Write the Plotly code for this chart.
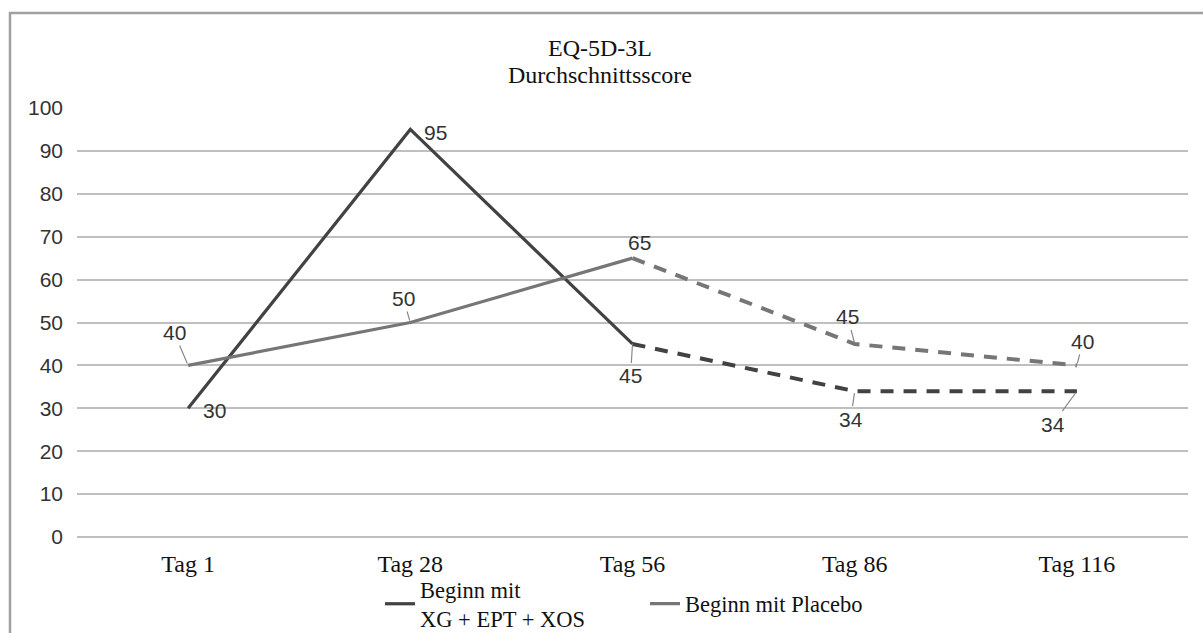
import plotly.graph_objects as go

# ---- data ----
categories = ["Tag 1", "Tag 28", "Tag 56", "Tag 86", "Tag 116"]
series_a_name = "Beginn mit<br>XG + EPT + XOS"
series_a = [30, 95, 45, 34, 34]
series_b_name = "Beginn mit Placebo"
series_b = [40, 50, 65, 45, 40]
y_ticks = [0, 10, 20, 30, 40, 50, 60, 70, 80, 90, 100]
title_lines = ["EQ-5D-3L", "Durchschnittsscore"]

# ---- styles ----
COL_A = "#424242"
COL_B = "#767676"
GRID = "#bfbfbf"
SERIF = "Liberation Serif, Times New Roman, serif"
SANS = "Liberation Sans, Arial, sans-serif"
SOLID_END = 2  # solid through Tag 56, dashed afterwards

# label offsets (pixels) and whether a leader line is drawn
lab_a = [(26, 2, False), (25, 3, False), (-2, 32, True), (-4, 28, True), (-24, 33, True)]
lab_b = [(-14, -33, True), (-7, -24, True), (7, -16, False), (-7, -27, True), (6, -24, True)]

fig = go.Figure()

def add_series(vals, name, color, width, legend):
    fig.add_trace(go.Scatter(
        x=categories[:SOLID_END + 1], y=vals[:SOLID_END + 1], mode="lines",
        name=name, line=dict(color=color, width=width), showlegend=True, legend=legend,
    ))
    fig.add_trace(go.Scatter(
        x=categories[SOLID_END:], y=vals[SOLID_END:], mode="lines",
        name=name, line=dict(color=color, width=width + 0.8, dash="13px,10px"),
        showlegend=False,
    ))

add_series(series_a, series_a_name, COL_A, 3.2, "legend")
add_series(series_b, series_b_name, COL_B, 3.2, "legend2")

annotations = []
for vals, labs in ((series_a, lab_a), (series_b, lab_b)):
    for cat, v, (dx, dy, leader) in zip(categories, vals, labs):
        if leader:
            annotations.append(dict(
                x=cat, y=v, text=str(v), showarrow=True, ax=dx, ay=dy,
                arrowhead=0, arrowwidth=1.2, arrowcolor="#888888", standoff=2,
                font=dict(family=SANS, size=21, color="#333333"),
            ))
        else:
            annotations.append(dict(
                x=cat, y=v, text=str(v), showarrow=False, xshift=dx, yshift=-dy,
                font=dict(family=SANS, size=21, color="#333333"),
            ))

# title lines (tighter line spacing than a <br> title)
for txt, yp in zip(title_lines, [(537 - 48) / 429, (537 - 75) / 429]):
    annotations.append(dict(
        text=txt, xref="paper", yref="paper", x=(600 - 77) / 1111, y=yp,
        xanchor="center", yanchor="middle", showarrow=False,
        font=dict(family=SERIF, size=24, color="#111111"),
    ))

leg_common = dict(orientation="h", xanchor="left", yref="container", y=1 - 604 / 633,
                  yanchor="middle", font=dict(family=SERIF, size=22.5, color="#111111"),
                  itemwidth=30, bgcolor="rgba(0,0,0,0)")

fig.update_layout(
    width=1203, height=633,
    margin=dict(l=77, r=15, t=108, b=96, pad=0, autoexpand=False),
    paper_bgcolor="white", plot_bgcolor="white",
    xaxis=dict(type="category", range=[-0.5, 4.5], showgrid=False, zeroline=False,
               showline=False, ticks="", ticklabelstandoff=10,
               tickfont=dict(family=SERIF, size=24, color="#111111")),
    yaxis=dict(range=[0, 100], tickvals=y_ticks, showgrid=True, gridcolor=GRID, gridwidth=1.6,
               zeroline=True, zerolinecolor=GRID, zerolinewidth=1.6, showline=False,
               ticks="", ticklabelstandoff=13,
               tickfont=dict(family=SANS, size=21, color="#333333")),
    legend=dict(x=(380 - 77) / 1111, **leg_common),
    legend2=dict(x=(645 - 77) / 1111, **leg_common),
    annotations=annotations,
    shapes=[dict(type="rect", xref="paper", yref="paper",
                 x0=(10 - 77) / 1111, x1=1.2, y0=-0.5, y1=(537 - 13) / 429,
                 line=dict(color="#a0a0a0", width=2.5), fillcolor="rgba(0,0,0,0)", layer="below")],
)

fig.write_html("out.html")
